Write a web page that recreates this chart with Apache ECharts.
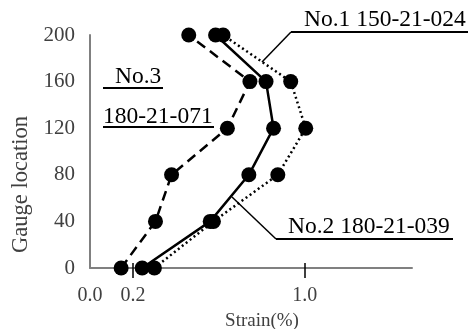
<!DOCTYPE html>
<html>
<head>
<meta charset="utf-8">
<script src="https://cdn.jsdelivr.net/npm/echarts@6/dist/echarts.min.js"></script>
<style>
  html, body { margin: 0; padding: 0; background: #fff; }
  #chart { width: 476px; height: 329px; }
</style>
</head>
<body>
<div id="chart"></div>
<script>
// gauge locations (y) and strain (%) per gauge (x)
let locations = [0, 40, 80, 120, 160, 200];
let no1Strain = [0.30, 0.575, 0.875, 1.005, 0.935, 0.62];   // dotted
let no2Strain = [0.243, 0.56, 0.74, 0.855, 0.82, 0.585];    // solid
let no3Strain = [0.145, 0.305, 0.38, 0.64, 0.745, 0.46];    // dashed
let xLabelValues = [0, 0.2, 1.0];
let xTickValues = [0.2, 1.0];

const serif = '"Liberation Serif", "Times New Roman", serif';

function pairs(xs) {
    return xs.map(function (v, i) { return [v, locations[i]]; });
}

function lineSeries(name, xs, type, width) {
    return {
        name: name,
        type: 'line',
        data: pairs(xs),
        symbol: 'circle',
        symbolSize: 15,
        itemStyle: { color: '#000' },
        lineStyle: { color: '#000', width: width, type: type },
        z: 3
    };
}

let dom = document.getElementById('chart');
let myChart = echarts.init(dom, null, { renderer: 'canvas' });

let option = {
    animation: false,
    backgroundColor: '#fff',
    grid: { left: 90, top: 35, width: 322, height: 233, outerBoundsMode: 'none', containLabel: false },
    xAxis: [{
        type: 'value',
        min: 0,
        max: 1.5,
        splitLine: { show: false },
        axisLine: { lineStyle: { color: '#808080', width: 2 } },
        axisTick: { show: true, length: 10, customValues: xTickValues, lineStyle: { color: '#000', width: 1.5 } },
        axisLabel: {
            customValues: xLabelValues,
            margin: 18,
            color: '#404040',
            fontFamily: serif,
            fontSize: 20,
            formatter: function (v) { return v.toFixed(1); }
        },
        name: 'Strain(%)',
        nameLocation: 'middle',
        nameGap: 44,
        nameTextStyle: { color: '#404040', fontFamily: serif, fontSize: 19, padding: [0, 0, 0, 22] }
    }, {
        // inner half of the crossing ticks
        type: 'value',
        min: 0,
        max: 1.5,
        position: 'bottom',
        splitLine: { show: false },
        axisLine: { show: false },
        axisLabel: { show: false },
        axisTick: { show: true, inside: true, length: 5, customValues: xTickValues, lineStyle: { color: '#000', width: 1.5 } }
    }],
    yAxis: {
        type: 'value',
        min: 0,
        max: 200,
        interval: 40,
        splitLine: { show: false },
        axisLine: { show: true, lineStyle: { color: '#808080', width: 2 } },
        axisTick: { show: false },
        axisLabel: { margin: 15, color: '#404040', fontFamily: serif, fontSize: 21 },
        name: 'Gauge location',
        nameLocation: 'middle',
        nameGap: 50,
        nameTextStyle: { color: '#404040', fontFamily: serif, fontSize: 22.5, padding: [0, 0, 0, -66] }
    },
    series: [
        lineSeries('No.1 150-21-024', no1Strain, [2, 3], 2.5),
        lineSeries('No.2 180-21-039', no2Strain, 'solid', 2.5),
        lineSeries('No.3 180-21-071', no3Strain, [10, 6], 2.5)
    ],
    graphic: [
        // No.1 label
        { type: 'text', left: 304, top: 8, style: { text: 'No.1 150-21-024', fontFamily: serif, fontSize: 23.5, fill: '#000' } },
        { type: 'line', shape: { x1: 291, y1: 32, x2: 468, y2: 32 }, style: { stroke: '#000', lineWidth: 2 } },
        { type: 'line', shape: { x1: 291, y1: 32, x2: 262, y2: 62 }, style: { stroke: '#000', lineWidth: 1.5 } },
        // No.3 label
        { type: 'text', left: 115, top: 65, style: { text: 'No.3', fontFamily: serif, fontSize: 23.5, fill: '#000' } },
        { type: 'line', shape: { x1: 103, y1: 88, x2: 163, y2: 88 }, style: { stroke: '#000', lineWidth: 2 } },
        { type: 'text', left: 103, top: 105, style: { text: '180-21-071', fontFamily: serif, fontSize: 23.5, fill: '#000' } },
        { type: 'line', shape: { x1: 103, y1: 127, x2: 214, y2: 127 }, style: { stroke: '#000', lineWidth: 2 } },
        // No.2 label
        { type: 'text', left: 288, top: 215, style: { text: 'No.2 180-21-039', fontFamily: serif, fontSize: 23.5, fill: '#000' } },
        { type: 'line', shape: { x1: 276, y1: 239, x2: 453, y2: 239 }, style: { stroke: '#000', lineWidth: 2 } },
        { type: 'line', shape: { x1: 276, y1: 239, x2: 232, y2: 197 }, style: { stroke: '#000', lineWidth: 1.5 } }
    ]
};

myChart.setOption(option);
</script>
</body>
</html>
